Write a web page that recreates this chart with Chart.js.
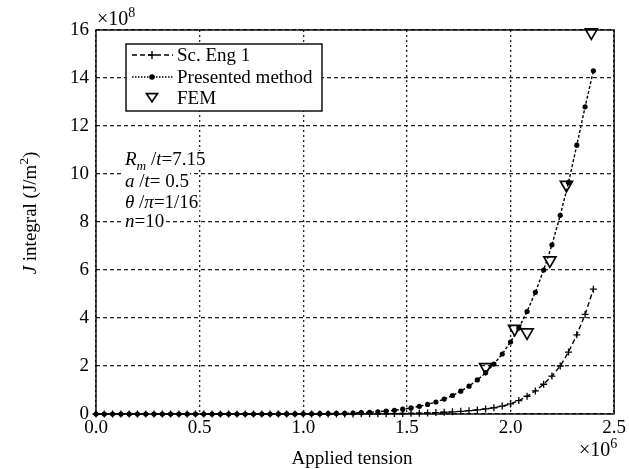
<!DOCTYPE html>
<html lang="en">
<head>
    <meta charset="UTF-8"/>
    <title>J integral vs applied tension</title>
    <script src="https://cdn.jsdelivr.net/npm/chart.js"></script>
    <style>
        html, body {
            margin: 0;
            padding: 0;
            background: #fff;
        }

        #wrap {
            width: 629px;
            height: 469px;
        }
    </style>
</head>
<body>
<div id="wrap">
    <canvas id="jChart" width="629" height="469"></canvas>
</div>

<script>
    // tension in units of 1e6, J in units of 1e8 J/m^2
    const tension = [0.00, 0.04, 0.08, 0.12, 0.16, 0.20, 0.24, 0.28, 0.32, 0.36,
        0.40, 0.44, 0.48, 0.52, 0.56, 0.60, 0.64, 0.68, 0.72, 0.76,
        0.80, 0.84, 0.88, 0.92, 0.96, 1.00, 1.04, 1.08, 1.12, 1.16,
        1.20, 1.24, 1.28, 1.32, 1.36, 1.40, 1.44, 1.48, 1.52, 1.56,
        1.60, 1.64, 1.68, 1.72, 1.76, 1.80, 1.84, 1.88, 1.92, 1.96,
        2.00, 2.04, 2.08, 2.12, 2.16, 2.20, 2.24, 2.28, 2.32, 2.36, 2.40];

    const scEng1 = [0, 0, 0, 0, 0, 0, 0, 0, 0, 0,
        0, 0, 0, 0, 0, 0, 0, 0, 0, 0,
        0, 0, 0, 0, 0, 0.001, 0.001, 0.002, 0.002, 0.003,
        0.004, 0.005, 0.006, 0.008, 0.010, 0.012, 0.016, 0.021, 0.028, 0.036,
        0.046, 0.058, 0.072, 0.09, 0.11, 0.14, 0.17, 0.21, 0.26, 0.33,
        0.42, 0.56, 0.74, 0.96, 1.24, 1.58, 2.00, 2.58, 3.30, 4.15, 5.20];

    const presented = [0, 0, 0, 0, 0, 0, 0, 0, 0, 0,
        0, 0, 0, 0, 0, 0, 0, 0, 0, 0,
        0.001, 0.001, 0.002, 0.003, 0.004, 0.006, 0.008, 0.012, 0.016, 0.022,
        0.030, 0.041, 0.054, 0.071, 0.093, 0.12, 0.156, 0.20, 0.254, 0.32,
        0.40, 0.50, 0.62, 0.77, 0.95, 1.16, 1.42, 1.72, 2.08, 2.50,
        3.00, 3.58, 4.27, 5.07, 6.00, 7.05, 8.28, 9.65, 11.2, 12.8, 14.3];

    const femX = [1.88, 2.02, 2.08, 2.19, 2.27, 2.39];
    const femJ = [1.95, 3.55, 3.40, 6.40, 9.55, 15.9];

    const xTicks = [0, 0.5, 1.0, 1.5, 2.0, 2.5];
    const yTicks = [0, 2, 4, 6, 8, 10, 12, 14, 16];

    const FONT = '"Liberation Serif", "DejaVu Serif", serif';

    function pts(xs, ys) {
        return xs.map((x, i) => ({x: x, y: ys[i]}));
    }

    function rich(ctx, x, y, parts, size) {
        parts.forEach(p => {
            const small = p.sub || p.sup;
            const s = small ? size * 0.7 : size;
            ctx.font = (p.it ? 'italic ' : '') + s + 'px ' + FONT;
            const dy = p.sub ? size * 0.28 : (p.sup ? -size * 0.42 : 0);
            ctx.fillText(p.t, x, y + dy);
            x += ctx.measureText(p.t).width;
        });
        return x;
    }

    function richWidth(ctx, parts, size) {
        let w = 0;
        parts.forEach(p => {
            const s = (p.sub || p.sup) ? size * 0.7 : size;
            ctx.font = (p.it ? 'italic ' : '') + s + 'px ' + FONT;
            w += ctx.measureText(p.t).width;
        });
        return w;
    }

    function triangleDown(ctx, x, y, r) {
        ctx.beginPath();
        ctx.moveTo(x - r, y - r * 0.6);
        ctx.lineTo(x + r, y - r * 0.6);
        ctx.lineTo(x, y + r * 0.85);
        ctx.closePath();
        ctx.stroke();
    }

    const decorations = {
        id: 'decorations',
        afterDraw(chart) {
            const ctx = chart.ctx;
            const a = chart.chartArea;
            ctx.save();
            ctx.fillStyle = '#000';
            ctx.strokeStyle = '#000';
            ctx.textBaseline = 'alphabetic';
            ctx.textAlign = 'left';

            // plot frame
            ctx.setLineDash([]);
            ctx.lineWidth = 1.4;
            ctx.strokeRect(a.left, a.top, a.right - a.left, a.bottom - a.top);

            // exponents
            rich(ctx, 97, 25, [{t: '\u00d710'}, {t: '8', sup: true}], 20);
            rich(ctx, 579, 456, [{t: '\u00d710'}, {t: '6', sup: true}], 20);

            // x title
            ctx.font = '19px ' + FONT;
            ctx.textAlign = 'center';
            ctx.fillText('Applied tension', 352, 464);
            ctx.textAlign = 'left';

            // y title
            const yParts = [{t: 'J', it: true}, {t: ' integral (J/m'}, {t: '2', sup: true}, {t: ')'}];
            const yw = richWidth(ctx, yParts, 19);
            ctx.save();
            ctx.translate(36, 213);
            ctx.rotate(-Math.PI / 2);
            rich(ctx, -yw / 2, 0, yParts, 19);
            ctx.restore();

            // parameter block
            const notes = [
                [{t: 'R', it: true}, {t: 'm', it: true, sub: true}, {t: ' /'}, {t: 't', it: true}, {t: '=7.15'}],
                [{t: 'a', it: true}, {t: ' /'}, {t: 't', it: true}, {t: '= 0.5'}],
                [{t: '\u03b8', it: true}, {t: ' /'}, {t: '\u03c0', it: true}, {t: '=1/16'}],
                [{t: 'n', it: true}, {t: '=10'}]
            ];
            const noteY = [165, 187, 208, 227];
            notes.forEach((parts, i) => {
                const w = richWidth(ctx, parts, 19);
                ctx.fillStyle = '#fff';
                ctx.fillRect(123, noteY[i] - 14, w + 3, 18);
                ctx.fillStyle = '#000';
                rich(ctx, 125, noteY[i], parts, 19);
            });

            // legend
            ctx.fillStyle = '#fff';
            ctx.fillRect(126, 44, 196, 67);
            ctx.lineWidth = 1.4;
            ctx.strokeRect(126, 44, 196, 67);
            ctx.fillStyle = '#000';
            ctx.lineWidth = 1.4;

            ctx.setLineDash([5, 3]);
            ctx.beginPath();
            ctx.moveTo(132, 55);
            ctx.lineTo(173, 55);
            ctx.stroke();
            ctx.setLineDash([]);
            ctx.beginPath();
            ctx.moveTo(148, 55);
            ctx.lineTo(156, 55);
            ctx.moveTo(152, 51);
            ctx.lineTo(152, 59);
            ctx.stroke();

            ctx.setLineDash([1.5, 1.5]);
            ctx.beginPath();
            ctx.moveTo(132, 77);
            ctx.lineTo(173, 77);
            ctx.stroke();
            ctx.setLineDash([]);
            ctx.beginPath();
            ctx.arc(152, 77, 2.8, 0, Math.PI * 2);
            ctx.fill();

            ctx.lineWidth = 1.7;
            triangleDown(ctx, 152, 97, 5.5);

            ctx.font = '19px ' + FONT;
            ctx.fillText('Sc. Eng 1', 177, 61);
            ctx.fillText('Presented method', 177, 83);
            ctx.fillText('FEM', 177, 104);

            ctx.restore();
        }
    };

    const tickFont = {family: FONT, size: 19};

    new Chart(document.getElementById('jChart'), {
        type: 'scatter',
        data: {
            datasets: [{
                label: 'Sc. Eng 1',
                data: pts(tension, scEng1),
                showLine: true,
                borderColor: '#000',
                borderWidth: 1.4,
                borderDash: [5, 3],
                pointStyle: 'cross',
                pointRadius: 3.5,
                pointBorderColor: '#000',
                pointBorderWidth: 1.3,
                clip: false
            }, {
                label: 'Presented method',
                data: pts(tension, presented),
                showLine: true,
                borderColor: '#000',
                borderWidth: 1.4,
                borderDash: [3, 2],
                pointStyle: 'circle',
                pointRadius: 2.6,
                pointBackgroundColor: '#000',
                pointBorderColor: '#000',
                pointBorderWidth: 0,
                clip: false
            }, {
                label: 'FEM',
                data: pts(femX, femJ),
                showLine: false,
                pointStyle: 'triangle',
                rotation: 180,
                pointRadius: 7,
                pointBackgroundColor: 'rgba(255,255,255,0)',
                pointBorderColor: '#000',
                pointBorderWidth: 1.7,
                clip: false
            }]
        },
        options: {
            responsive: false,
            animation: false,
            layout: {padding: {left: 0, right: 14, top: 30, bottom: 0}},
            plugins: {
                legend: {display: false},
                tooltip: {enabled: false}
            },
            scales: {
                x: {
                    type: 'linear',
                    min: 0,
                    max: 2.5,
                    afterFit: s => { s.height = 55; },
                    afterBuildTicks: s => { s.ticks = xTicks.map(v => ({value: v})); },
                    ticks: {
                        autoSkip: false,
                        maxRotation: 0,
                        color: '#000',
                        font: tickFont,
                        padding: 3,
                        callback: v => v.toFixed(1)
                    },
                    grid: {color: '#222', lineWidth: 1.3, drawTicks: false},
                    border: {display: false, dash: [2, 3]}
                },
                y: {
                    min: 0,
                    max: 16,
                    afterFit: s => { s.width = 96; },
                    afterBuildTicks: s => { s.ticks = yTicks.map(v => ({value: v})); },
                    ticks: {
                        autoSkip: false,
                        color: '#000',
                        font: tickFont,
                        padding: 7
                    },
                    grid: {color: '#222', lineWidth: 1.3, drawTicks: false},
                    border: {display: false, dash: [4, 3]}
                }
            }
        },
        plugins: [decorations]
    });
</script>
</body>
</html>
